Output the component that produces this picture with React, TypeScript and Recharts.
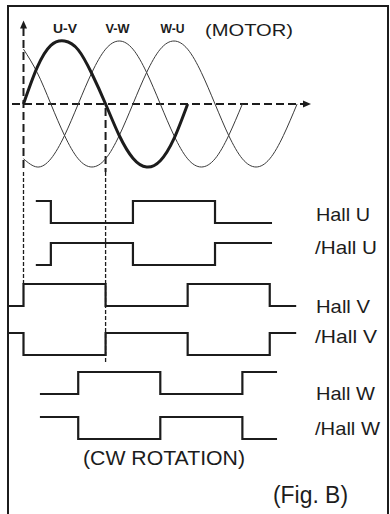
import React from 'react';
import {
    ComposedChart,
    Line,
    XAxis,
    YAxis,
    ReferenceLine,
    ReferenceDot,
    Customized
} from 'recharts';

// sine samples every 30 electrical degrees
const sampleStep = 30;
const uvWave = [0, 0.58, 0.93, 1, 0.86, 0.48, 0, -0.5, -0.86, -1, -0.9, -0.55, 0];
const vwWave = [-0.87, -1, -0.87, -0.5, 0, 0.5, 0.87, 1, 0.87, 0.5, 0, -0.5, -0.87, -1, -0.87, -0.5, 0];
const wuWave = [0.87, 0.5, 0, -0.5, -0.87, -1, -0.87, -0.5, 0, 0.5, 0.87, 1, 0.87, 0.5, 0, -0.5, -0.87, -1, -0.87, -0.5, 0];

// hall sensor edges (degrees) and the level after each edge
const hallUEdges = [27, 60, 240, 420, 545];
const hallULevels = [1, 0, 1, 0, 0];
const hallUInvLevels = [0, 1, 0, 1, 1];
const hallVEdges = [-32, 0, 180, 360, 540, 598];
const hallVLevels = [0, 1, 0, 1, 0, 0];
const hallVInvLevels = [1, 0, 1, 0, 1, 1];
const hallWEdges = [36, 120, 300, 480, 556];
const hallWLevels = [0, 1, 0, 1, 1];
const hallWInvLevels = [1, 0, 1, 0, 0];

const waveLabels = ['U-V', 'V-W', 'W-U'];
const waveLabelDeg = [91, 206, 327];
const hallNames = ['Hall U', '/Hall U', 'Hall V', '/Hall V', 'Hall W', '/Hall W'];

// layout
const W = 390;
const H = 514;
const PX_PER_DEG = 0.456;
const ORIGIN_PX = 23.5;
const AXIS_Y = 104;
const AMP = 63;
const HALL_H = 22;
const rowLow = [223, 265, 306, 355, 394, 439];
const labelBase = [221, 254, 313, 343, 400, 435];
const labelWidth = [54, 62, 54, 62, 59, 65];
const INK = '#1c1c1c';
const FONT = '"Liberation Sans", Arial, sans-serif';

const xDomain = [-ORIGIN_PX / PX_PER_DEG, (W - ORIGIN_PX) / PX_PER_DEG];
const pxToDeg = (px: number) => (px - ORIGIN_PX) / PX_PER_DEG;

const wave = (vals: number[]) =>
    vals.map((v, i) => ({ deg: i * sampleStep, y: AXIS_Y - v * AMP }));

const hall = (edges: number[], levels: number[], row: number) =>
    edges.map((d, i) => ({ deg: d, y: rowLow[row] - levels[i] * HALL_H }));

const hallSeries = [
    hall(hallUEdges, hallULevels, 0),
    hall(hallUEdges, hallUInvLevels, 1),
    hall(hallVEdges, hallVLevels, 2),
    hall(hallVEdges, hallVInvLevels, 3),
    hall(hallWEdges, hallWLevels, 4),
    hall(hallWEdges, hallWInvLevels, 5)
];

const Labels = () => (
    <g fontFamily={FONT} fill={INK}>
        {waveLabels.map((t, i) => (
            <text
                key={t}
                x={ORIGIN_PX + waveLabelDeg[i] * PX_PER_DEG - 12}
                y={33}
                fontSize={13}
                fontWeight="bold"
                textLength={24}
                lengthAdjust="spacingAndGlyphs"
            >
                {t}
            </text>
        ))}
        <text x={205} y={36} fontSize={16} textLength={88} lengthAdjust="spacingAndGlyphs">
            (MOTOR)
        </text>
        {hallNames.map((t, i) => (
            <text
                key={t}
                x={t.startsWith('/') ? 315 : 316}
                y={labelBase[i]}
                fontSize={19}
                textLength={labelWidth[i]}
                lengthAdjust="spacingAndGlyphs"
            >
                {t}
            </text>
        ))}
        <text x={83} y={465} fontSize={19.5} textLength={162} lengthAdjust="spacingAndGlyphs">
            (CW ROTATION)
        </text>
        <text x={273} y={503} fontSize={23} textLength={75} lengthAdjust="spacingAndGlyphs">
            (Fig. B)
        </text>
    </g>
);

const ArrowRight = (p: any) => (
    <polygon points={`${p.cx - 8},${p.cy - 3.5} ${p.cx},${p.cy} ${p.cx - 8},${p.cy + 3.5}`} fill={INK} />
);
const ArrowUp = (p: any) => (
    <polygon points={`${p.cx - 3.5},${p.cy + 8} ${p.cx},${p.cy} ${p.cx + 3.5},${p.cy + 8}`} fill={INK} />
);

export default function App() {
    return (
        <div style={{ position: 'fixed', left: 0, top: 0, width: W, height: H, overflow: 'hidden', background: '#fff' }}>
            <div
                style={{
                    position: 'absolute',
                    left: 7,
                    top: 5,
                    width: 382,
                    height: 600,
                    boxSizing: 'border-box',
                    border: `2.5px solid ${INK}`
                }}
            />
            <div style={{ position: 'absolute', left: 0, top: 0 }}>
                <ComposedChart width={W} height={H} margin={{ top: 0, right: 0, bottom: 0, left: 0 }}>
                    <XAxis hide type="number" dataKey="deg" domain={xDomain} allowDataOverflow />
                    <YAxis hide type="number" dataKey="y" domain={[0, H]} reversed allowDataOverflow />

                    {/* axes */}
                    <ReferenceLine
                        segment={[{ x: pxToDeg(12), y: AXIS_Y }, { x: pxToDeg(304), y: AXIS_Y }]}
                        stroke={INK}
                        strokeWidth={2.2}
                        strokeDasharray="8 4"
                    />
                    <ReferenceDot x={pxToDeg(311)} y={AXIS_Y} r={4} shape={ArrowRight} />
                    <ReferenceLine
                        segment={[{ x: 0, y: 28 }, { x: 0, y: 172 }]}
                        stroke={INK}
                        strokeWidth={2}
                        strokeDasharray="8 4"
                    />
                    <ReferenceDot x={0} y={20.5} r={4} shape={ArrowUp} />
                    <ReferenceLine
                        segment={[{ x: 0, y: 172 }, { x: 0, y: rowLow[2] - HALL_H }]}
                        stroke={INK}
                        strokeWidth={1.3}
                        strokeDasharray="4 2"
                    />
                    <ReferenceLine
                        segment={[{ x: 180, y: AXIS_Y + 4 }, { x: 180, y: 172 }]}
                        stroke={INK}
                        strokeWidth={2}
                        strokeDasharray="8 4"
                    />
                    <ReferenceLine
                        segment={[{ x: 180, y: 172 }, { x: 180, y: 363 }]}
                        stroke={INK}
                        strokeWidth={1.3}
                        strokeDasharray="4 2"
                    />

                    {/* motor back-emf */}
                    <Line data={wave(vwWave)} dataKey="y" type="natural" stroke="#3a3a3a" strokeWidth={1} dot={false} activeDot={false} isAnimationActive={false} />
                    <Line data={wave(wuWave)} dataKey="y" type="natural" stroke="#3a3a3a" strokeWidth={1} dot={false} activeDot={false} isAnimationActive={false} />
                    <Line data={wave(uvWave)} dataKey="y" type="natural" stroke={INK} strokeWidth={3} dot={false} activeDot={false} isAnimationActive={false} />

                    {/* hall sensors */}
                    {hallSeries.map((d, i) => (
                        <Line
                            key={hallNames[i]}
                            data={d}
                            dataKey="y"
                            type="stepAfter"
                            stroke={INK}
                            strokeWidth={2.2}
                            dot={false}
                            activeDot={false}
                            isAnimationActive={false}
                        />
                    ))}

                    <Customized component={Labels} />
                </ComposedChart>
            </div>
        </div>
    );
}
